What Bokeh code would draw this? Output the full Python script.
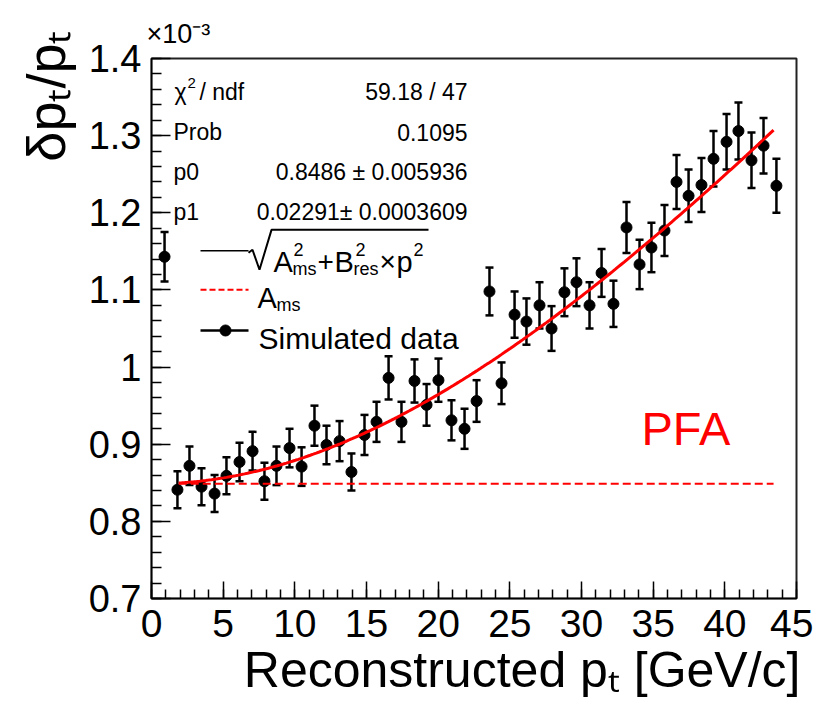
import numpy as np
from bokeh.plotting import figure
from bokeh.models import (ColumnDataSource, Whisker, TeeHead, Label, FixedTicker, Range1d, Title)
from bokeh.embed import file_html
from bokeh.resources import INLINE

# ---------------- data ----------------
pt = [0.91, 1.81, 2.65, 3.49, 4.40, 5.23, 6.14, 7.05, 7.88, 8.72,
      9.63, 10.47, 11.37, 12.21, 13.12, 13.95, 14.86, 15.70, 16.54, 17.44,
      18.35, 19.19, 20.02, 20.93, 21.84, 22.68, 23.58, 24.42, 25.33, 26.16,
      27.07, 27.91, 28.81, 29.65, 30.56, 31.40, 32.23, 33.14, 34.05, 34.88,
      35.79, 36.63, 37.47, 38.37, 39.21, 40.12, 40.95, 41.86, 42.70, 43.60]
res = [1.143, 0.841, 0.872, 0.845, 0.836, 0.859, 0.877, 0.891, 0.852, 0.872,
       0.895, 0.871, 0.924, 0.899, 0.904, 0.864, 0.912, 0.929, 0.986, 0.929,
       0.982, 0.951, 0.983, 0.931, 0.920, 0.956, 1.098, 0.979, 1.068, 1.059,
       1.080, 1.050, 1.097, 1.110, 1.080, 1.122, 1.082, 1.181, 1.133, 1.155,
       1.177, 1.240, 1.222, 1.236, 1.270, 1.292, 1.306, 1.268, 1.287, 1.235]
err = [0.032, 0.024, 0.025, 0.024, 0.024, 0.024, 0.025, 0.025, 0.024, 0.025,
       0.025, 0.025, 0.026, 0.025, 0.026, 0.024, 0.026, 0.026, 0.028, 0.026,
       0.028, 0.027, 0.028, 0.026, 0.026, 0.027, 0.031, 0.027, 0.030, 0.030,
       0.030, 0.029, 0.031, 0.031, 0.030, 0.031, 0.030, 0.033, 0.032, 0.032,
       0.033, 0.035, 0.034, 0.035, 0.036, 0.036, 0.037, 0.036, 0.036, 0.035]

# fit parameters (from the stats box)
p0 = 0.8486
p1 = 0.02291
fit_range = [1.9, 43.4]

x_ticks = [0, 5, 10, 15, 20, 25, 30, 35, 40, 45]
y_ticks = [0.7, 0.8, 0.9, 1.0, 1.1, 1.2, 1.3, 1.4]
y_tick_labels = ["0.7", "0.8", "0.9", "1", "1.1", "1.2", "1.3", "1.4"]

stats_names = ["Prob", "p0", "p1"]
stats_values = ["59.18 / 47", "0.1095", "0.8486 \u00b1 0.005936", "0.02291\u00b1 0.0003609"]

x_title = "Reconstructed p\u209c [GeV/c]"
y_title = "\u03b4p\u209c/p\u209c"
multiplier = "\u00d710\u207b\u00b3"

FONT = "Liberation Sans"

# ---------------- figure ----------------
W, H = 813, 697
p = figure(width=W, height=H, output_backend="svg", toolbar_location=None,
           x_range=Range1d(0, 45), y_range=Range1d(0.7, 1.4))
p.min_border_left = 151
p.min_border_right = 17
p.min_border_top = 58
p.min_border_bottom = 97
p.background_fill_color = "white"
p.border_fill_color = "white"
p.outline_line_color = "#222222"
p.outline_line_width = 2
p.xgrid.visible = False
p.ygrid.visible = False

# canvas-pixel -> data helpers (frame: x 151..796, y 58..600)
def X(px):
    return (px - 151) * 45.0 / 645.0

def Y(py):
    return 0.7 + (600 - py) * 0.7 / 542.0

xa = p.xaxis[0]
xa.ticker = FixedTicker(ticks=x_ticks, minor_ticks=list(range(0, 46)))
xa.major_tick_in = 17
xa.major_tick_out = 0
xa.minor_tick_in = 9
xa.minor_tick_out = 0
xa.axis_line_width = 1.5
xa.major_tick_line_width = 1.5
xa.minor_tick_line_width = 1.5
xa.major_label_text_font = FONT
xa.major_label_text_font_size = "39px"
xa.major_label_standoff = 11
xa.major_label_text_color = "black"

ya = p.yaxis[0]
ya.ticker = FixedTicker(ticks=y_ticks, minor_ticks=[round(0.7 + 0.02 * i, 2) for i in range(36)])
ya.major_label_overrides = {t: s for t, s in zip(y_ticks, y_tick_labels)}
ya.major_tick_in = 19
ya.major_tick_out = 0
ya.minor_tick_in = 10
ya.minor_tick_out = 0
ya.axis_line_width = 1.5
ya.major_tick_line_width = 1.5
ya.minor_tick_line_width = 1.5
ya.major_label_text_font = FONT
ya.major_label_text_font_size = "38px"
ya.major_label_standoff = 10
ya.major_label_text_color = "black"

# axis titles and multiplier as side-panel titles
p.add_layout(Title(text=x_title, align="right", text_font=FONT, text_font_size="50px",
                   text_font_style="normal", text_color="black", standoff=0, offset=-4), "below")
p.add_layout(Title(text=y_title, align="right", text_font=FONT, text_font_size="54px",
                   text_font_style="normal", text_color="black", standoff=20, offset=-28), "left")
p.add_layout(Title(text=multiplier, align="left", text_font=FONT, text_font_size="27px",
                   text_font_style="normal", text_color="black", standoff=20, offset=-5), "above")

# ---------------- data marks ----------------
src = ColumnDataSource(dict(x=pt, y=res,
                            lo=[v - e for v, e in zip(res, err)],
                            hi=[v + e for v, e in zip(res, err)]))
wh = Whisker(source=src, base="x", lower="lo", upper="hi",
             line_color="black", line_width=2.5,
             upper_head=TeeHead(size=8, line_width=2.5, line_color="black"),
             lower_head=TeeHead(size=8, line_width=2.5, line_color="black"))
p.add_layout(wh)
p.scatter("x", "y", source=src, size=11, color="black")

xf = np.linspace(fit_range[0], fit_range[1], 200)
p.line(xf, np.sqrt(p0 ** 2 + (p1 * xf) ** 2), line_color="#ff0000", line_width=3)
p.line(fit_range, [p0, p0], line_color="#ff0000", line_width=2, line_dash="8 4")

# ---------------- text helper (inside the frame) ----------------
def lab(text, px, py, size, color="black", align="left", baseline="alphabetic"):
    p.add_layout(Label(x=X(px), y=Y(py), text=text, text_font=FONT,
                       text_font_size=f"{size}px", text_color=color,
                       text_align=align, text_baseline=baseline))

# stats box
lab("\u03c7", 174, 92, 23)
lab("2", 187, 83, 15)
lab("/ ndf", 199, 92, 23)
for i, name in enumerate(stats_names):
    lab(name, 173, 132 + 40 * i, 23)
for i, val in enumerate(stats_values):
    lab(val, 467, 92 + 40 * i, 23, align="right")

# legend keys
p.line([X(200), X(248)], [Y(251), Y(251)], line_color="black", line_width=1.5)
p.line([X(200), X(248)], [Y(290), Y(290)], line_color="#ff0000", line_width=2, line_dash="6 3")
p.line([X(200), X(248)], [Y(331), Y(331)], line_color="black", line_width=2.5)
p.scatter([X(225)], [Y(331)], size=11, color="black")

# sqrt(A_ms^2 + B_res^2 x p^2)
p.line([X(248), X(252), X(259), X(271), X(428)],
       [Y(253), Y(250), Y(270), Y(230), Y(230)], line_color="black", line_width=2)
lab("A", 273, 262, 29)
lab("2", 293, 250, 18)
lab("ms", 292, 269, 18)
lab("+", 317, 262, 28)
lab("B", 334, 262, 29)
lab("2", 355, 250, 18)
lab("res", 353, 269, 18)
lab("\u00d7", 379, 262, 28)
lab("p", 396, 262, 29)
lab("2", 413, 250, 18)

lab("A", 257, 298, 29)
lab("ms", 276, 305, 18)
lab("Simulated data", 258, 339, 30)

lab("PFA", 641, 429, 47, color="#ff0000")

open("out.html", "w").write(file_html(p, INLINE))
